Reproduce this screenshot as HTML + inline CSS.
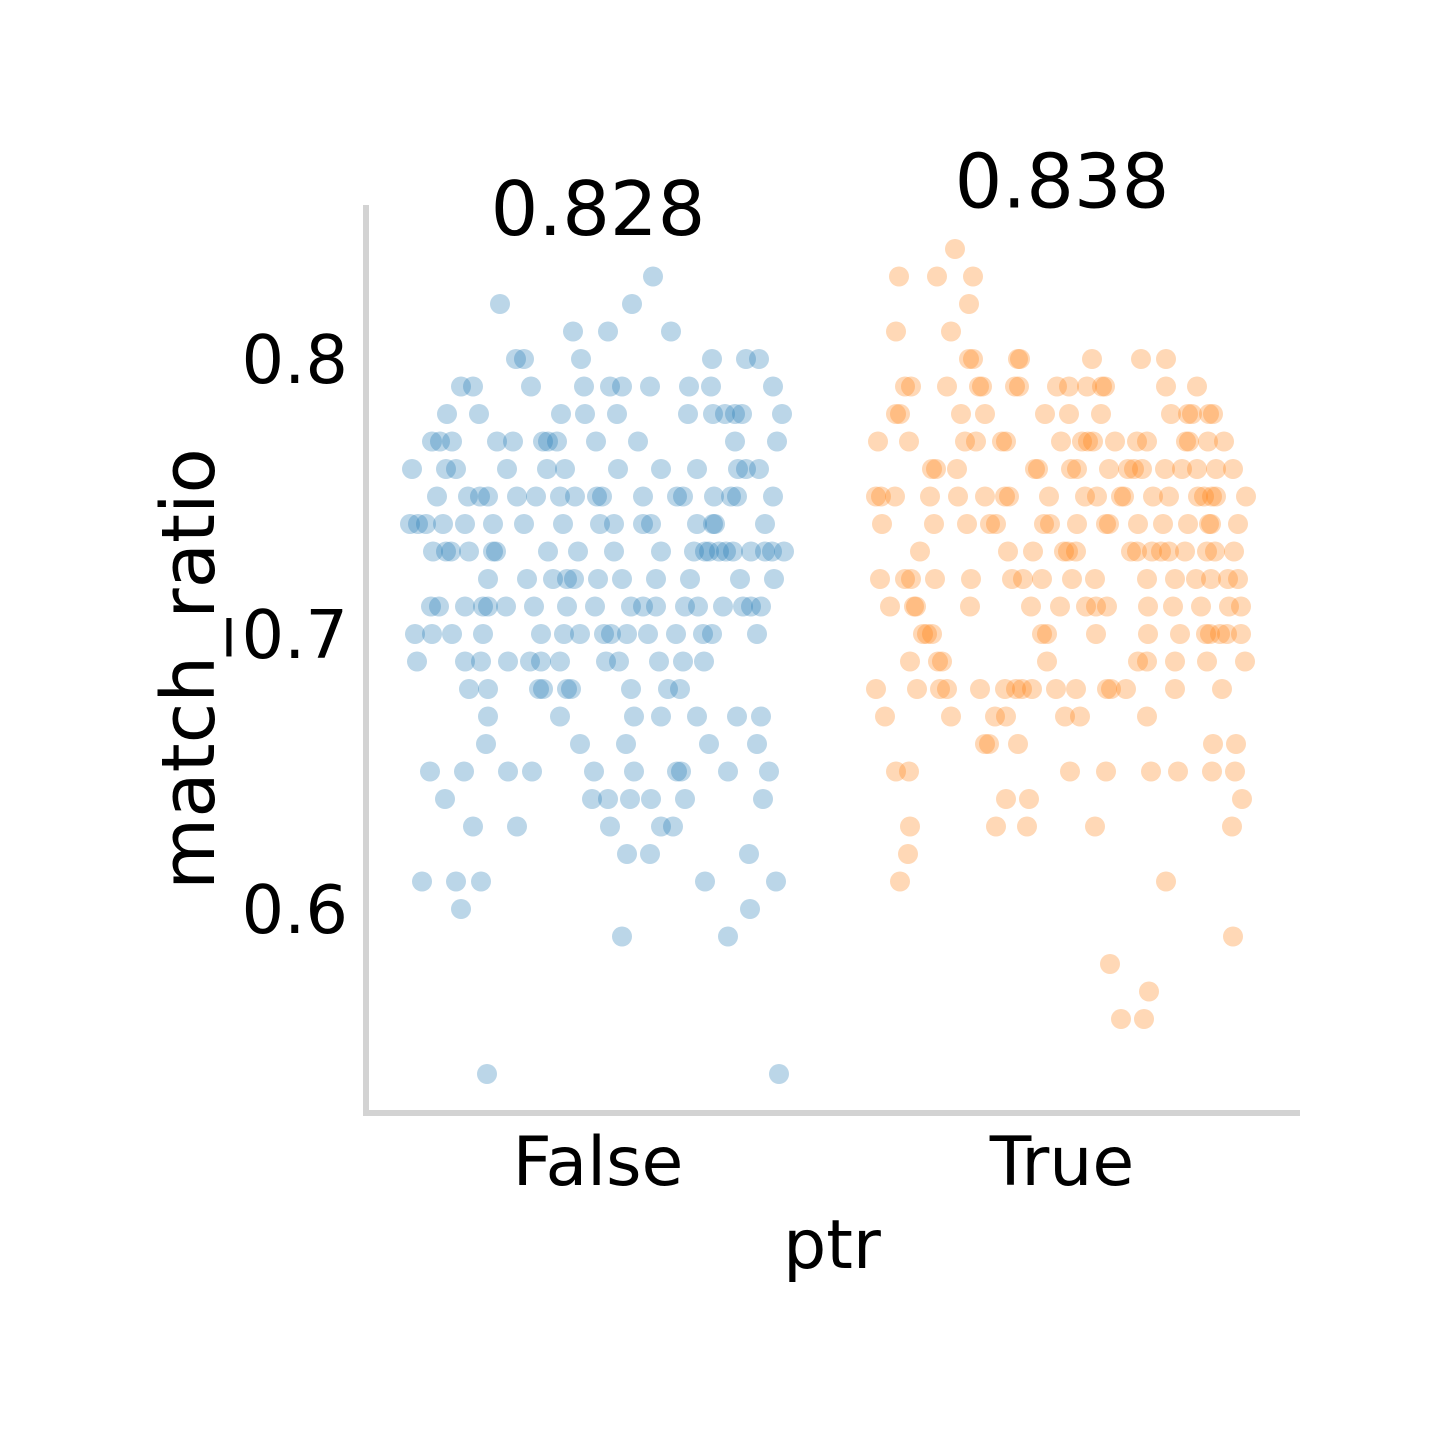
<!DOCTYPE html>
<html><head><meta charset="utf-8"><style>
html,body{margin:0;padding:0;background:#fff}
svg text{font-family:"DejaVu Sans","Liberation Sans",sans-serif}
</style></head><body>
<svg id="chart" width="1445" height="1436" viewBox="0 0 1445 1436" xmlns="http://www.w3.org/2000/svg">
<rect width="1445" height="1436" fill="#fff"/>
<g id="pts"></g>
<line x1="366" y1="205" x2="366" y2="1113" stroke="#d3d3d3" stroke-width="6"/>
<line x1="363" y1="1113" x2="1300" y2="1113" stroke="#d3d3d3" stroke-width="6"/>
<g id="ticks"></g>
<g id="xticks"></g>
<text x="832" y="1268" font-size="68" text-anchor="middle">ptr</text>
<text transform="translate(214,669) rotate(-90)" font-size="74" text-anchor="middle">match_ratio</text>
<g id="ann"></g>
</svg>
<script>
const categories = ["False", "True"];
const colors = ["#1f77b4", "#ff7f0e"];
const annotations = ["0.828", "0.838"];
const annotationValues = [0.828, 0.838];
const yTicks = [0.6, 0.7, 0.8];
const yTickLabels = ["0.6", "0.7", "0.8"];
// rows: [value, x-readings...]
const falseRows = [
[0.83,653],[0.82,500,632],[0.81,573,608,671],[0.80,516,524,581,712,746,759],
[0.79,461,473,531,584,610,622,650,689,711,773],
[0.78,447,479,561,585,617,688,713,725,735,742,782],
[0.77,432,440,452,497,513,543,548,557,596,638,735,777],
[0.76,412,446,456,507,547,565,618,661,697,738,746,759],
[0.75,437,468,480,488,517,536,560,575,597,602,643,677,683,714,731,737,773],
[0.74,410,418,426,443,465,493,524,563,600,614,643,651,697,713,715,765],
[0.73,433,446,451,469,493,496,548,578,614,661,694,705,709,719,726,733,751,765,772,784],
[0.72,488,527,553,567,574,598,622,656,690,740,774],
[0.71,431,439,465,483,488,506,534,567,595,631,643,656,685,698,723,743,751,761],
[0.70,415,432,452,483,541,564,580,604,611,627,648,676,703,712,757],
[0.69,417,465,481,508,530,541,560,606,619,659,683,704],
[0.68,469,488,539,543,567,571,631,668,680],
[0.67,488,560,634,661,697,737,761],[0.66,486,580,626,709,757],
[0.65,430,464,508,532,594,634,677,681,728,769],
[0.64,445,592,608,630,651,685,763],[0.63,473,517,610,661,673],
[0.62,627,650,749],[0.61,422,456,481,705,776],[0.60,461,750],[0.59,622,728],[0.54,487,779]
];
const trueRows = [
[0.84,955],[0.83,899,937,973],[0.82,969],[0.81,896,951],
[0.80,969,973,1018,1020,1092,1141,1166],
[0.79,905,911,947,979,982,1015,1019,1057,1069,1087,1102,1105,1166,1197],
[0.78,896,900,961,985,1045,1069,1101,1171,1188,1192,1209,1213],
[0.77,878,909,965,976,1002,1006,1061,1082,1088,1093,1115,1137,1147,1186,1189,1208,1224],
[0.76,932,936,957,1035,1038,1071,1077,1109,1128,1134,1142,1165,1182,1197,1216,1233],
[0.75,876,881,895,930,958,985,1005,1009,1049,1085,1097,1121,1124,1153,1169,1198,1204,1212,1216,1246],
[0.74,882,934,967,990,996,1044,1050,1077,1106,1109,1138,1163,1188,1209,1211,1238],
[0.73,920,1008,1033,1064,1068,1076,1131,1137,1152,1161,1169,1185,1207,1215,1234],
[0.72,880,905,911,935,971,1012,1023,1042,1072,1095,1147,1175,1196,1211,1228,1238],
[0.71,890,914,916,970,1031,1060,1086,1096,1107,1148,1173,1201,1229,1241],
[0.70,923,927,932,1042,1047,1096,1148,1180,1206,1210,1220,1227,1241],
[0.69,910,938,942,1047,1138,1147,1175,1207,1245],
[0.68,876,917,940,947,980,1005,1016,1022,1032,1056,1076,1107,1111,1126,1175,1222],
[0.67,885,951,995,1006,1065,1080,1147],[0.66,985,989,1018,1213,1236],
[0.65,896,909,1070,1106,1151,1178,1212,1235],[0.64,1006,1029,1242],
[0.63,910,996,1027,1095,1232],[0.62,908],[0.61,900,1166],[0.59,1233],[0.58,1110],[0.57,1149],[0.56,1121,1144]
];
const NS="http://www.w3.org/2000/svg";
function yScale(v){return 359+(0.8-v)*2750;}
function xScale(c){return 598+c*464;}
function mk(tag,attrs,parent){const e=document.createElementNS(NS,tag);for(const k in attrs)e.setAttribute(k,attrs[k]);parent.appendChild(e);return e;}
const pts=document.getElementById('pts');
[falseRows,trueRows].forEach((rows,ci)=>{
  rows.forEach(r=>{
    for(let i=1;i<r.length;i++){
      const jitter=(r[i]-xScale(ci))/464;
      const c=mk('circle',{cx:xScale(ci+jitter),cy:yScale(r[0]),r:10,fill:colors[ci],'fill-opacity':0.3},pts);
      
      
    }
  });
});
const tg=document.getElementById('ticks');
yTicks.forEach((v,i)=>{
  const t=mk('text',{x:348,y:yScale(v)+24,'font-size':67,'text-anchor':'end'},tg);
  t.textContent=yTickLabels[i];
  
  
});
const xg=document.getElementById('xticks');
categories.forEach((c,i)=>{
  const t=mk('text',{x:xScale(i),y:1185,'font-size':68,'text-anchor':'middle'},xg);
  t.textContent=c;
  
  
});
const ag=document.getElementById('ann');
annotations.forEach((a,i)=>{
  const t=mk('text',{x:xScale(i),y:yScale(annotationValues[i])-47,'font-size':75,'text-anchor':'middle'},ag);
  t.textContent=a;
  
  
});
</script>
</body></html>
